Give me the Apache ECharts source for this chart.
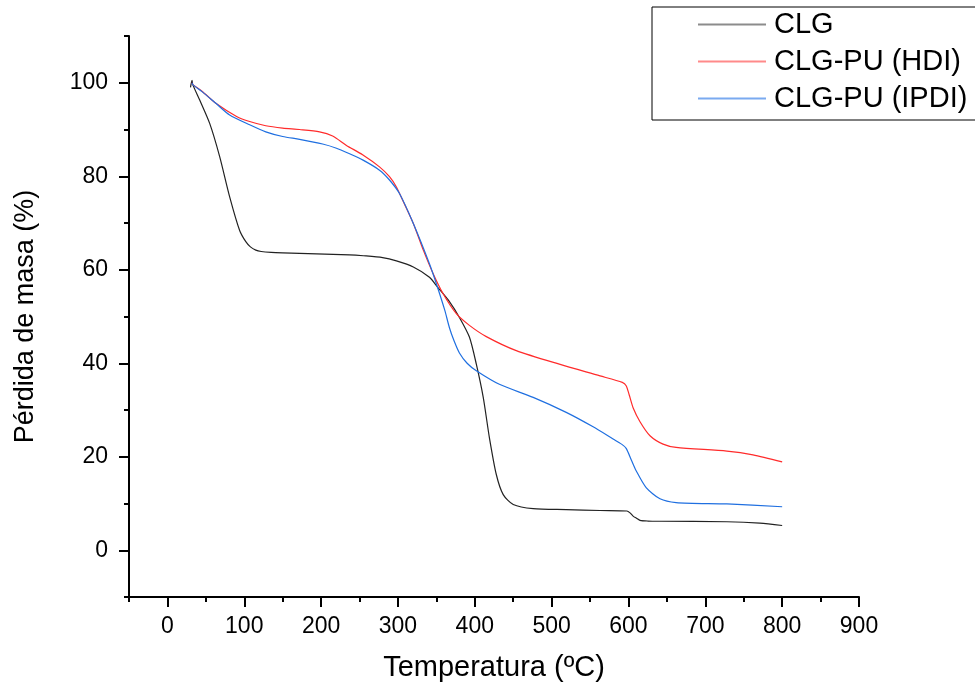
<!DOCTYPE html>
<html>
<head>
<meta charset="utf-8">
<script src="https://cdn.jsdelivr.net/npm/echarts@6/dist/echarts.min.js"></script>
<style>
  html, body { margin: 0; padding: 0; background: #fff; }
  #chart { width: 975px; height: 687px; }
</style>
</head>
<body>
<div id="chart"></div>
<script>
// Thermogravimetric curves: temperature (ºC) vs remaining mass (%)
const seriesNames = ['CLG', 'CLG-PU (HDI)', 'CLG-PU (IPDI)'];

const tempCLG = [30, 32, 33, 42, 55, 68, 81, 94, 102, 108, 115, 122, 135, 150, 194, 237, 255, 280, 298, 320, 341, 352, 367, 380, 393, 402, 411, 419, 428, 437, 450, 476, 519, 563, 598, 602, 606, 611, 615, 625, 641, 728, 771, 800];
const massCLG = [99.0, 100.5, 99.6, 96.3, 91.3, 84.2, 75.6, 68.4, 66.0, 64.9, 64.2, 63.9, 63.7, 63.6, 63.4, 63.2, 63.0, 62.6, 61.9, 60.6, 58.4, 56.2, 53.2, 49.8, 45.6, 39.8, 32.7, 24.1, 16.2, 11.9, 9.8, 8.9, 8.7, 8.5, 8.4, 8.0, 7.3, 6.8, 6.4, 6.25, 6.2, 6.1, 5.8, 5.3];

const tempHDI = [32, 33, 45, 63, 90, 107, 128, 150, 172, 198, 215, 233, 254, 276, 289, 298, 306, 320, 333, 346, 359, 376, 393, 415, 454, 510, 563, 592, 597, 601, 606, 615, 628, 645, 662, 728, 762, 800];
const massHDI = [100.0, 99.6, 98.2, 95.6, 92.8, 91.7, 90.8, 90.3, 90.0, 89.5, 88.6, 86.6, 84.6, 82.0, 79.9, 77.7, 74.9, 69.9, 64.2, 59.1, 54.8, 50.6, 48.1, 45.7, 42.7, 39.8, 37.3, 35.9, 35.2, 33.2, 30.5, 27.5, 24.5, 22.7, 22.0, 21.2, 20.4, 18.9];

const tempIPDI = [32, 33, 45, 63, 81, 107, 128, 150, 172, 202, 220, 237, 254, 276, 289, 302, 320, 341, 350, 361, 367, 373, 380, 390, 402, 432, 476, 519, 554, 580, 591, 597, 604, 610, 623, 641, 662, 728, 800];
const massIPDI = [100.0, 99.6, 98.1, 95.6, 93.1, 91.0, 89.5, 88.5, 87.9, 86.9, 86.0, 84.8, 83.5, 81.3, 79.2, 76.3, 69.9, 61.3, 57.0, 51.3, 47.6, 44.8, 42.2, 40.0, 38.4, 35.5, 32.7, 29.5, 26.4, 23.8, 22.7, 21.8, 19.2, 17.0, 13.4, 11.0, 10.2, 9.9, 9.3];

// Tick positions
const xMajorTicks = [0, 100, 200, 300, 400, 500, 600, 700, 800, 900];
const xMinorTicks = [-50, 50, 150, 250, 350, 450, 550, 650, 750, 850];
const yMajorTicks = [0, 20, 40, 60, 80, 100];
const yMinorTicks = [-10, 10, 30, 50, 70, 90, 110];

const colors = ['#222222', '#ff2b2b', '#1f6fe0'];
const legendColors = ['#8c8c8c', '#ff8a8a', '#7aaaf0'];
const FONT = "'Liberation Sans', Arial, sans-serif";

const pairs = (xs, ys) => xs.map((x, i) => [x, ys[i]]);

const chart = echarts.init(document.getElementById('chart'), null, { renderer: 'canvas' });

const axisLineStyle = { color: '#000', width: 2 };

const option = {
  backgroundColor: '#ffffff',
  animation: false,
  color: colors,
  grid: { left: 129, right: 116, top: 36, bottom: 88, containLabel: false },
  legend: {
    orient: 'vertical',
    left: 652,
    top: 7,
    padding: [3, 40, 7, 46],
    icon: 'rect',
    itemWidth: 68,
    itemHeight: 2,
    itemGap: 8,
    borderColor: '#000',
    borderWidth: 1,
    textStyle: { fontFamily: FONT, fontSize: 29, color: '#000', lineHeight: 29, padding: [0, 0, 0, 3] },
    data: seriesNames.map((n, i) => ({ name: n, itemStyle: { color: legendColors[i] } }))
  },
  xAxis: [
    {
      type: 'value', min: -50, max: 900, position: 'bottom', offset: 0,
      axisLine: { show: true, onZero: false, lineStyle: axisLineStyle },
      axisTick: { show: true, customValues: xMajorTicks, length: 10, lineStyle: axisLineStyle },
      axisLabel: { customValues: xMajorTicks, margin: 18, fontFamily: FONT, fontSize: 23, color: '#000' },
      splitLine: { show: false },
      name: 'Temperatura (ºC)', nameLocation: 'middle', nameGap: 56,
      nameTextStyle: { fontFamily: FONT, fontSize: 29, color: '#000' }
    },
    {
      type: 'value', min: -50, max: 900, position: 'bottom', offset: 0,
      axisLine: { show: false, onZero: false },
      axisTick: { show: true, customValues: xMinorTicks, length: 5, lineStyle: axisLineStyle },
      axisLabel: { show: false },
      splitLine: { show: false }
    }
  ],
  yAxis: [
    {
      type: 'value', min: -10, max: 110, position: 'left', offset: 0,
      axisLine: { show: true, onZero: false, lineStyle: axisLineStyle },
      axisTick: { show: true, customValues: yMajorTicks, length: 10, lineStyle: axisLineStyle },
      axisLabel: { customValues: yMajorTicks, margin: 21, fontFamily: FONT, fontSize: 23, color: '#000' },
      splitLine: { show: false },
      name: 'Pérdida de masa (%)', nameLocation: 'middle', nameGap: 90,
      nameTextStyle: { fontFamily: FONT, fontSize: 27, color: '#000' }
    },
    {
      type: 'value', min: -10, max: 110, position: 'left', offset: 0,
      axisLine: { show: false, onZero: false },
      axisTick: { show: true, customValues: yMinorTicks, length: 5, lineStyle: axisLineStyle },
      axisLabel: { show: false },
      splitLine: { show: false }
    }
  ],
  series: [
    { name: seriesNames[0], type: 'line', data: pairs(tempCLG, massCLG), symbol: 'none', smooth: 0.25, lineStyle: { width: 1.2, color: colors[0] }, itemStyle: { color: colors[0] } },
    { name: seriesNames[1], type: 'line', data: pairs(tempHDI, massHDI), symbol: 'none', smooth: 0.25, lineStyle: { width: 1.2, color: colors[1] }, itemStyle: { color: colors[1] } },
    { name: seriesNames[2], type: 'line', data: pairs(tempIPDI, massIPDI), symbol: 'none', smooth: 0.25, lineStyle: { width: 1.2, color: colors[2] }, itemStyle: { color: colors[2] } }
  ]
};

chart.setOption(option);
</script>
</body>
</html>
